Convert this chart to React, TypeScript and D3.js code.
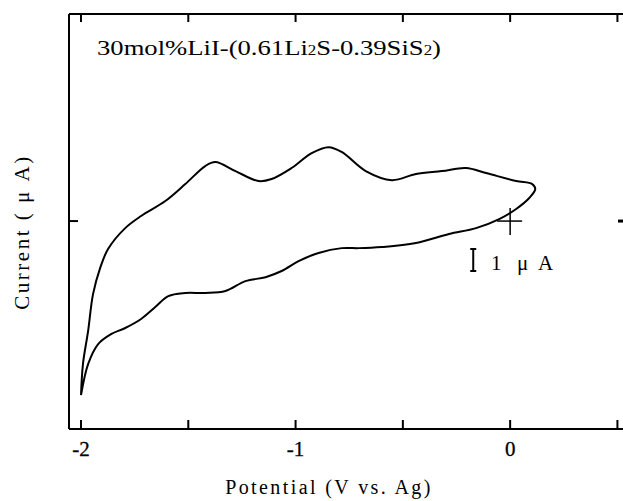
import React from "react";
import * as d3 from "d3";

// Potential (V vs. Ag) and current (μA)
const forwardV = [-2.0, -1.991, -1.967, -1.944, -1.911, -1.874, -1.794, -1.72, -1.607, -1.514, -1.421, -1.374, -1.28, -1.173, -1.112, -1.019, -0.925, -0.846, -0.785, -0.673, -0.551, -0.439, -0.318, -0.206, -0.112, 0.028, 0.103, 0.117];
const forwardI = [-7.91, -6.5, -5.0, -3.32, -2.14, -1.27, -0.32, 0.23, 0.91, 1.68, 2.5, 2.68, 2.27, 1.82, 1.91, 2.41, 3.09, 3.36, 3.14, 2.27, 1.86, 2.14, 2.27, 2.41, 2.18, 1.82, 1.68, 1.45];
const reverseV = [0.089, 0.028, -0.051, -0.159, -0.285, -0.439, -0.598, -0.706, -0.785, -0.893, -0.986, -1.065, -1.14, -1.234, -1.327, -1.421, -1.514, -1.593, -1.654, -1.72, -1.794, -1.86, -1.921, -1.967, -2.0];
const reverseI = [1.05, 0.55, 0.09, -0.32, -0.59, -1.0, -1.18, -1.23, -1.23, -1.45, -1.82, -2.27, -2.55, -2.73, -3.18, -3.27, -3.27, -3.41, -3.91, -4.45, -4.86, -5.14, -5.6, -6.5, -7.91];

const xTicks = [-2, -1.5, -1, -0.5, 0, 0.5];
const xTickLabels = ["-2", "", "-1", "", "0", ""];
const yTicks = [0];
const scaleBarI = [-2.27, -1.27];
const scaleBarV = -0.172;

const title = "30mol%LiI-(0.61Li";
const xLabel = "Potential (V vs. Ag)";
const yLabel = "Current ( μ A)";

const W = 623;
const H = 501;
const left = 69;
const top = 14;
const bottom = 429;
const right = 623;

export default function App() {
  const x = d3.scaleLinear().domain([-2.056, 0.526]).range([left, right]);
  const y = d3.scaleLinear().domain([-9.45, 9.41]).range([bottom, top]);

  const pts: [number, number][] = [
    ...forwardV.map((v, i) => [v, forwardI[i]] as [number, number]),
    ...reverseV.map((v, i) => [v, reverseI[i]] as [number, number]),
  ];
  const line = d3
    .line<[number, number]>()
    .x((d) => x(d[0]))
    .y((d) => y(d[1]))
    .curve(d3.curveCatmullRom.alpha(0.5));

  const font = "'Liberation Serif', 'DejaVu Serif', serif";
  const x0 = x(0);
  const y0 = y(0);
  const bx = x(scaleBarV);

  return (
    <svg width={W} height={H} style={{ position: "absolute", left: 0, top: 0 }} fontFamily={font}>
      <rect x={0} y={0} width={W} height={H} fill="white" />
      {/* frame */}
      <line x1={left} y1={top} x2={right} y2={top} stroke="#000" strokeWidth={2} />
      <line x1={left} y1={bottom} x2={right} y2={bottom} stroke="#000" strokeWidth={2} />
      <line x1={left} y1={top} x2={left} y2={bottom} stroke="#000" strokeWidth={2} />
      {xTicks.map((t, i) => (
        <g key={i}>
          <line x1={x(t)} x2={x(t)} y1={top} y2={top + 8} stroke="#000" strokeWidth={2} />
          <line x1={x(t)} x2={x(t)} y1={bottom} y2={bottom - 9} stroke="#000" strokeWidth={2} />
          {xTickLabels[i] && (
            <text x={x(t)} y={456} fontSize={21} textAnchor="middle" stroke="#000" strokeWidth={0.3}>
              {xTickLabels[i]}
            </text>
          )}
        </g>
      ))}
      {yTicks.map((t, i) => (
        <g key={i}>
          <line x1={left} x2={left + 9} y1={y(t)} y2={y(t)} stroke="#000" strokeWidth={2} />
          <line x1={right - 5} x2={right} y1={y(t)} y2={y(t)} stroke="#000" strokeWidth={3} />
        </g>
      ))}
      {/* curve */}
      <path d={line(pts) || ""} fill="none" stroke="#000" strokeWidth={2} />
      {/* origin cross */}
      <line x1={x0 - 13} x2={x0 + 12} y1={y0} y2={y0} stroke="#000" strokeWidth={1.5} />
      <line x1={x0} x2={x0} y1={y0 - 13} y2={y0 + 14} stroke="#000" strokeWidth={1.5} />
      {/* scale bar */}
      <line x1={bx} x2={bx} y1={y(scaleBarI[0])} y2={y(scaleBarI[1])} stroke="#000" strokeWidth={2} />
      <line x1={bx - 3} x2={bx + 3} y1={y(scaleBarI[0])} y2={y(scaleBarI[0])} stroke="#000" strokeWidth={2} />
      <line x1={bx - 3} x2={bx + 3} y1={y(scaleBarI[1])} y2={y(scaleBarI[1])} stroke="#000" strokeWidth={2} />
      <text x={491} y={270} fontSize={21}>1</text>
      <text x={517} y={270} fontSize={21}>μ</text>
      <text x={538} y={270} fontSize={21}>A</text>
      {/* title */}
      <text x={97} y={55} fontSize={22} textLength={344} lengthAdjust="spacingAndGlyphs">
        {title}
        <tspan fontSize={14}>2</tspan>
        <tspan fontSize={22}>S-0.39SiS</tspan>
        <tspan fontSize={14}>2</tspan>
        <tspan fontSize={22}>)</tspan>
      </text>
      {/* axis labels */}
      <text x={329} y={494} fontSize={20} textAnchor="middle" letterSpacing={2.4}>
        {xLabel}
      </text>
      <text
        transform={`translate(29, 232) rotate(-90)`}
        fontSize={21}
        textAnchor="middle"
        letterSpacing={2.5}
      >
        {yLabel}
      </text>
    </svg>
  );
}
